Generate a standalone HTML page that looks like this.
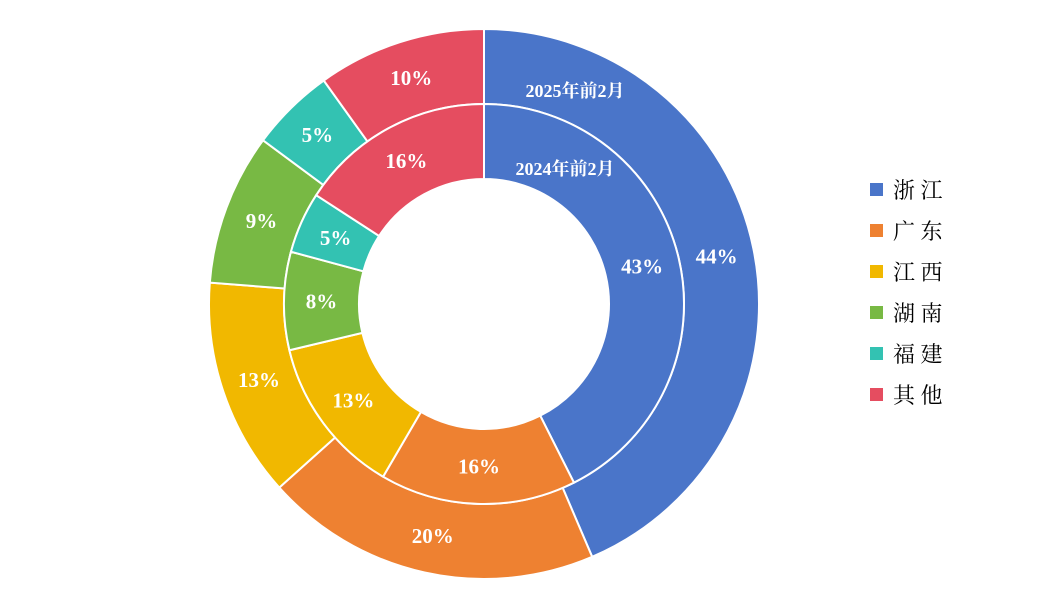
<!DOCTYPE html>
<html><head><meta charset="utf-8"><style>
body{margin:0;background:#fff;width:1057px;height:607px;overflow:hidden}
svg{display:block}
</style></head><body>
<svg id="chart" width="1057" height="607"></svg>
<script>
const categories=["浙 江","广 东","江 西","湖 南","福 建","其 他"];
const values2025=[44,20,13,9,5,10];
const values2024=[43,16,13,8,5,16];
const seriesNames=["2025年前2月","2024年前2月"];
const colors=["#4a75c9","#ee8131","#f1b800","#78b944","#33c2b2","#e54d60"];
const NS="http://www.w3.org/2000/svg";
const svg=document.getElementById("chart");
const cx=484,cy=304;
function pt(r,a){return [cx+r*Math.sin(a),cy-r*Math.cos(a)];}
function ring(vals,r0,r1,nm){
  const tot=vals.reduce((a,b)=>a+b,0);let a=0;
  vals.forEach((v,i)=>{
    const a1=a+v/tot*2*Math.PI;
    const [x0,y0]=pt(r1,a),[x1,y1]=pt(r1,a1),[x2,y2]=pt(r0,a1),[x3,y3]=pt(r0,a);
    const lg=(a1-a)>Math.PI?1:0;
    const p=document.createElementNS(NS,"path");
    p.setAttribute("d",`M${x0},${y0}A${r1},${r1} 0 ${lg} 1 ${x1},${y1}L${x2},${y2}A${r0},${r0} 0 ${lg} 0 ${x3},${y3}Z`);
    p.setAttribute("fill",colors[i]);p.setAttribute("stroke","#fff");p.setAttribute("stroke-width","2");
    
    
    svg.appendChild(p);
    const [lx,ly]=pt((r0+r1)/2,(a+a1)/2);
    const t=document.createElementNS(NS,"text");
    t.setAttribute("x",lx);t.setAttribute("y",ly+7);t.setAttribute("text-anchor","middle");
    t.setAttribute("fill","#fff");t.setAttribute("font-size","21");t.setAttribute("font-weight","bold");
    t.setAttribute("font-family","Liberation Serif, serif");
    t.textContent=v+"%";
    
    
    svg.appendChild(t);
    a=a1;
  });
}
ring(values2025,200,275,"outer-2025");
ring(values2024,125,200,"inner-2024");
[[575,97,seriesNames[0],"series-name-2025"],[565,175,seriesNames[1],"series-name-2024"]].forEach(s=>{
  const t=document.createElementNS(NS,"text");
  t.setAttribute("x",s[0]);t.setAttribute("y",s[1]);t.setAttribute("text-anchor","middle");
  t.setAttribute("fill","#fff");t.setAttribute("font-size","18");t.setAttribute("font-weight","bold");
  t.setAttribute("font-family","Liberation Serif, Noto Serif CJK SC, serif");
  t.textContent=s[2];
  
  
  svg.appendChild(t);
});
categories.forEach((c,i)=>{
  const y=190+i*41;
  const g=document.createElementNS(NS,"g");
  
  
  const r=document.createElementNS(NS,"rect");
  r.setAttribute("x",870);r.setAttribute("y",y-7);r.setAttribute("width",13);r.setAttribute("height",13);r.setAttribute("fill",colors[i]);
  
  
  const t=document.createElementNS(NS,"text");
  t.setAttribute("x",893);t.setAttribute("y",y+8);t.setAttribute("font-size","22");
  t.setAttribute("font-family","Liberation Serif, Noto Serif CJK SC, serif");t.setAttribute("fill","#000");
  t.setAttribute("xml:space","preserve");t.style.whiteSpace="pre";
  t.textContent=c;
  
  
  g.appendChild(r);g.appendChild(t);svg.appendChild(g);
});
</script>
</body></html>
